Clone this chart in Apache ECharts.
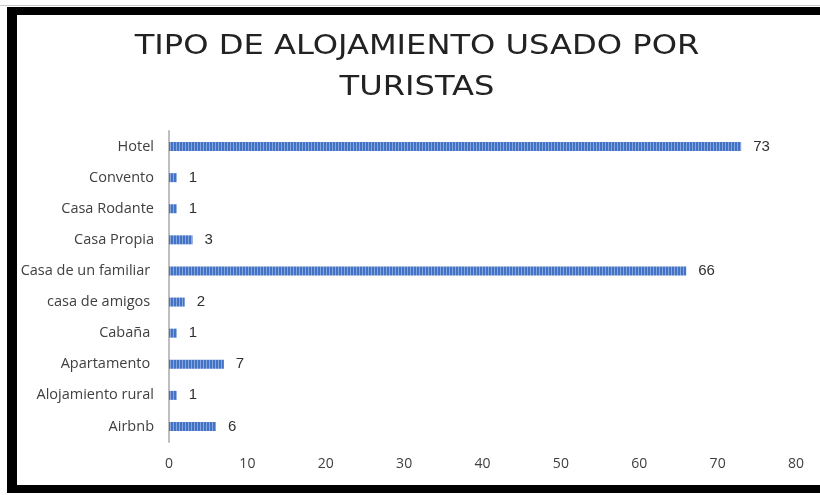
<!DOCTYPE html>
<html><head><meta charset="utf-8">
<script src="https://cdn.jsdelivr.net/npm/echarts@6/dist/echarts.min.js"></script>
<style>html,body{margin:0;padding:0;background:#fff}#c{width:820px;height:495px}</style>
</head><body><div id="c"></div>
<script>
const titleLines = ['TIPO DE ALOJAMIENTO USADO POR', 'TURISTAS'];
const categories = ['Airbnb', 'Alojamiento rural', 'Apartamento ', 'Cabaña ', 'casa de amigos ', 'Casa de un familiar ', 'Casa Propia', 'Casa Rodante', 'Convento', 'Hotel'];
const values = [6, 1, 7, 1, 2, 66, 3, 1, 1, 73];
const xTicks = [0, 10, 20, 30, 40, 50, 60, 70, 80];

const pc = document.createElement('canvas');
pc.width = 3; pc.height = 4;
const g = pc.getContext('2d');
g.fillStyle = '#4472C4'; g.fillRect(0, 0, 3, 4);
g.fillStyle = '#86A6DE'; g.fillRect(2, 0, 1, 4);

const chart = echarts.init(document.getElementById('c'), null, {renderer: 'canvas'});
chart.setOption({
  animation: false,
  graphic: [
    {type: 'rect', shape: {x: 0, y: 5, width: 820, height: 1}, style: {fill: '#c8c8c8'}},
    {type: 'rect', shape: {x: 7, y: 7, width: 813, height: 8}, style: {fill: '#000'}},
    {type: 'rect', shape: {x: 7, y: 7, width: 10, height: 486}, style: {fill: '#000'}},
    {type: 'rect', shape: {x: 7, y: 485, width: 813, height: 8}, style: {fill: '#000'}},
    {type: 'text', x: 417, y: 47, scaleX: 1.19, scaleY: 1,
      style: {text: titleLines[0], fontFamily: 'DejaVu Sans', fontSize: 27, fill: '#222', align: 'center', verticalAlign: 'middle'}},
    {type: 'text', x: 417, y: 88, scaleX: 1.19, scaleY: 1,
      style: {text: titleLines[1], fontFamily: 'DejaVu Sans', fontSize: 27, fill: '#222', align: 'center', verticalAlign: 'middle'}}
  ],
  grid: {left: 169, right: 24, top: 131, bottom: 53, containLabel: false},
  xAxis: {
    type: 'value', min: 0, max: 80, interval: 10,
    axisLine: {show: false}, axisTick: {show: false}, splitLine: {show: false},
    axisLabel: {margin: 15, color: '#404040', fontFamily: 'Open Sans', fontSize: 14,
      formatter: v => xTicks.includes(v) ? String(v) : ''}
  },
  yAxis: {
    type: 'category', data: categories,
    axisLine: {show: true, lineStyle: {color: '#bfbfbf', width: 2}},
    axisTick: {show: false},
    axisLabel: {margin: 15, color: '#404040', fontFamily: 'Open Sans', fontSize: 14.5}
  },
  series: [{
    type: 'bar', data: values, barWidth: 9,
    itemStyle: {color: {image: pc, repeat: 'repeat'}},
    label: {show: true, position: 'right', distance: 12, color: '#303030', fontFamily: 'Liberation Sans', fontSize: 15}
  }]
});
</script></body></html>
